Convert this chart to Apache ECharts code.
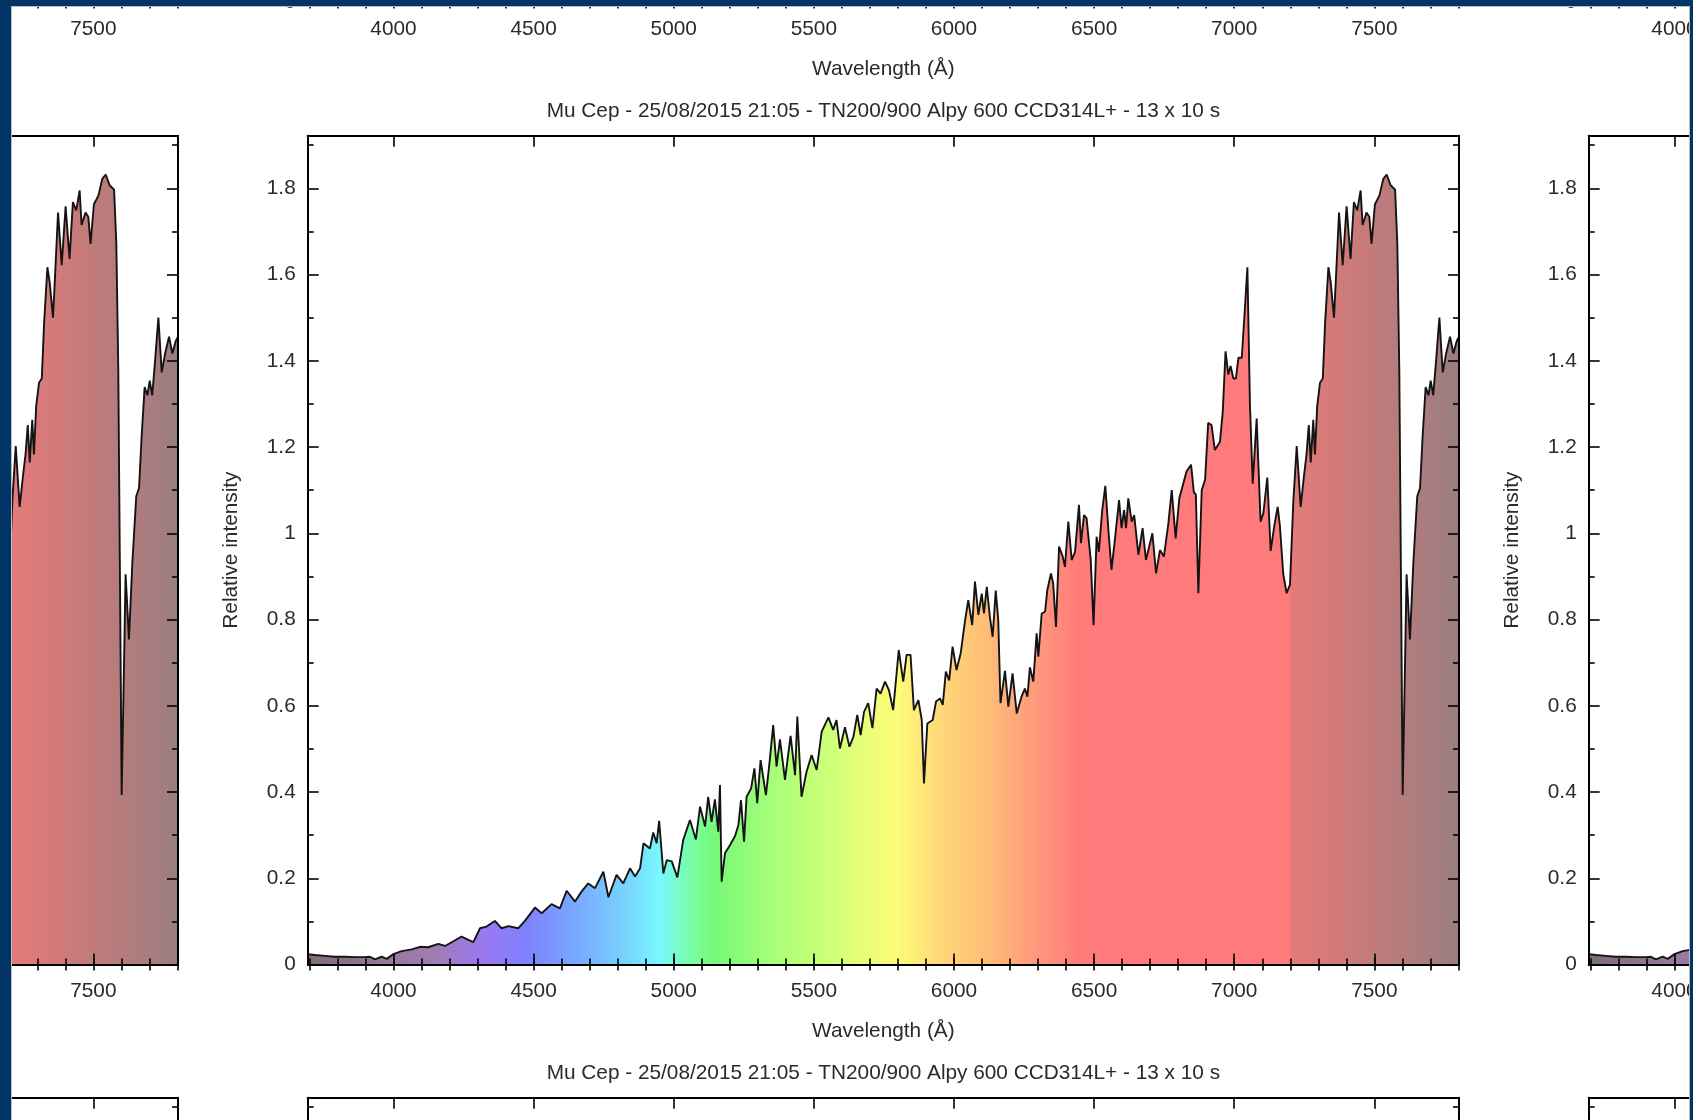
<!DOCTYPE html>
<html>
<head>
<meta charset="utf-8">
<script src="https://cdn.jsdelivr.net/npm/echarts@6/dist/echarts.min.js"></script>
<style>
  html, body { margin: 0; padding: 0; background: #ffffff; }
  #chart { width: 1693px; height: 1120px; }
</style>
</head>
<body>
<div id="chart"></div>
<script>
// ---------------- DATA ----------------
const titleText = 'Mu Cep - 25/08/2015 21:05 - TN200/900 Alpy 600 CCD314L+ - 13 x 10 s';
const xAxisName = 'Wavelength (Å)';
const yAxisName = 'Relative intensity';

// [wavelength (Å), relative intensity]
const spectrumPoints = [
  [3694,0.024],[3720,0.022],[3756,0.020],[3791,0.018],[3827,0.018],[3863,0.017],[3898,0.017],[3916,0.018],
  [3934,0.012],[3958,0.018],[3976,0.013],[4000,0.024],[4029,0.031],[4065,0.035],[4095,0.041],[4124,0.040],
  [4160,0.048],[4184,0.043],[4214,0.054],[4243,0.065],[4267,0.057],[4285,0.052],[4309,0.084],[4332,0.088],
  [4362,0.101],[4386,0.084],[4410,0.089],[4445,0.084],[4469,0.101],[4505,0.132],[4529,0.119],[4564,0.140],
  [4594,0.130],[4618,0.171],[4648,0.146],[4671,0.169],[4695,0.188],[4719,0.177],[4749,0.215],[4767,0.156],
  [4796,0.208],[4820,0.188],[4844,0.223],[4862,0.204],[4880,0.223],[4892,0.281],[4915,0.269],[4927,0.306],
  [4939,0.281],[4948,0.333],[4963,0.211],[4975,0.242],[4993,0.239],[5013,0.202],[5034,0.289],[5058,0.335],
  [5079,0.290],[5094,0.366],[5112,0.320],[5123,0.389],[5135,0.331],[5147,0.383],[5159,0.308],[5165,0.416],
  [5171,0.192],[5183,0.258],[5201,0.277],[5219,0.298],[5231,0.324],[5240,0.381],[5251,0.285],[5260,0.389],
  [5276,0.408],[5288,0.455],[5298,0.374],[5310,0.474],[5329,0.393],[5341,0.463],[5355,0.555],[5367,0.459],
  [5379,0.522],[5397,0.428],[5417,0.530],[5433,0.439],[5441,0.575],[5456,0.389],[5474,0.447],[5492,0.486],
  [5510,0.451],[5528,0.540],[5552,0.573],[5569,0.544],[5581,0.567],[5593,0.501],[5611,0.550],[5627,0.505],
  [5641,0.528],[5655,0.579],[5667,0.532],[5679,0.586],[5694,0.606],[5709,0.548],[5724,0.640],[5738,0.628],
  [5754,0.656],[5768,0.636],[5783,0.590],[5803,0.729],[5819,0.656],[5831,0.718],[5845,0.718],[5857,0.590],
  [5873,0.613],[5885,0.567],[5893,0.420],[5905,0.559],[5924,0.567],[5936,0.610],[5950,0.617],[5960,0.602],
  [5971,0.679],[5983,0.659],[5995,0.737],[6009,0.683],[6024,0.722],[6039,0.795],[6051,0.845],[6065,0.787],
  [6075,0.888],[6087,0.811],[6099,0.860],[6107,0.814],[6117,0.876],[6128,0.807],[6138,0.760],[6149,0.867],
  [6158,0.799],[6166,0.606],[6182,0.681],[6194,0.598],[6209,0.675],[6224,0.582],[6241,0.621],[6253,0.640],
  [6262,0.621],[6271,0.689],[6283,0.656],[6295,0.768],[6301,0.714],[6313,0.814],[6325,0.818],[6333,0.868],
  [6346,0.907],[6354,0.884],[6364,0.783],[6375,0.969],[6388,0.946],[6396,0.922],[6408,1.027],[6420,0.938],
  [6432,0.957],[6446,1.066],[6453,0.977],[6464,1.042],[6473,1.035],[6488,0.938],[6498,0.787],[6509,0.992],
  [6517,0.957],[6529,1.054],[6540,1.110],[6551,1.008],[6562,0.915],[6574,0.984],[6589,1.077],[6598,1.012],
  [6607,1.054],[6614,1.012],[6622,1.081],[6634,1.027],[6643,1.042],[6658,0.950],[6664,0.946],[6673,1.012],
  [6685,0.938],[6708,1.000],[6721,0.907],[6735,0.961],[6749,0.946],[6765,1.023],[6777,1.100],[6791,0.988],
  [6804,1.081],[6818,1.115],[6830,1.144],[6846,1.159],[6856,1.095],[6863,1.090],[6872,0.861],[6884,1.100],
  [6896,1.124],[6907,1.256],[6919,1.251],[6931,1.193],[6949,1.212],[6959,1.281],[6969,1.422],[6979,1.368],
  [6987,1.388],[6997,1.359],[7006,1.359],[7015,1.407],[7027,1.407],[7035,1.490],[7047,1.617],[7056,1.300],
  [7066,1.115],[7080,1.266],[7094,1.027],[7104,1.047],[7118,1.129],[7130,0.959],[7143,1.017],[7155,1.061],
  [7163,1.017],[7175,0.905],[7187,0.861],[7199,0.881],[7211,1.076],[7223,1.202],[7237,1.061],[7249,1.134],
  [7258,1.183],[7266,1.251],[7273,1.164],[7282,1.263],[7288,1.183],[7296,1.295],[7306,1.349],[7316,1.359],
  [7324,1.485],[7336,1.617],[7344,1.583],[7356,1.500],[7363,1.593],[7374,1.744],[7387,1.622],[7401,1.758],
  [7415,1.636],[7427,1.768],[7439,1.749],[7451,1.795],[7458,1.715],[7472,1.744],[7482,1.734],[7490,1.671],
  [7502,1.763],[7518,1.783],[7532,1.822],[7544,1.832],[7558,1.807],[7574,1.797],[7582,1.671],[7589,1.378],
  [7595,0.891],[7601,0.393],[7608,0.647],[7615,0.905],[7627,0.754],[7639,0.930],[7653,1.086],[7663,1.105],
  [7672,1.222],[7683,1.339],[7693,1.320],[7701,1.354],[7710,1.320],[7720,1.398],[7732,1.500],[7744,1.373],
  [7756,1.417],[7770,1.456],[7782,1.417],[7794,1.446],[7802,1.456]
];

const xMin = 3694, xMax = 7802;
const yMin = 0, yMax = 1.922;
const xMajorTicks = [4000, 4500, 5000, 5500, 6000, 6500, 7000, 7500];
const xMinorTicks = [3700,3800,3900,4000,4100,4200,4300,4400,4500,4600,4700,4800,4900,5000,5100,5200,5300,
  5400,5500,5600,5700,5800,5900,6000,6100,6200,6300,6400,6500,6600,6700,6800,6900,7000,7100,7200,7300,7400,
  7500,7600,7700,7800];
const yMajorTicks = [0, 0.2, 0.4, 0.6, 0.8, 1, 1.2, 1.4, 1.6, 1.8];
const yMinorTicks = [0.1, 0.3, 0.5, 0.7, 0.9, 1.1, 1.3, 1.5, 1.7, 1.9];

// fill colour of the spectrum at given wavelengths
const colorWavelengths = [3694, 3950, 4150, 4330, 4480, 4650, 4850, 4950, 5080, 5150, 5400, 5620, 5800, 5950, 6100, 6280, 6450, 7199, 7202, 7450, 7802];
const colorValues = ['#7d6b7b', '#937896', '#a07cb4', '#9a78f4', '#7e82ff', '#78a8ff', '#78d8ff', '#78f8ff', '#78ff98', '#78f878', '#b0ff78', '#dcff78', '#fdfb78', '#ffd878', '#ffc078', '#ff9c7c', '#ff7a7a', '#ff7a7a', '#e67a7a', '#c87a7a', '#9a7e80'];

// ---------------- LAYOUT ----------------
const PLOT = { left: 307.7, top: 135.7, width: 1151.3, height: 828.8 };
const TILE_DX = 1281, TILE_DY = 962;
const FONT = "'Liberation Sans', Arial, sans-serif";
const TEXT_COLOR = '#2a2a2a';
const FONT_SIZE = 20.8;

const chart = echarts.init(document.getElementById('chart'), null, { renderer: 'canvas' });

const first = spectrumPoints[0][0], last = spectrumPoints[spectrumPoints.length - 1][0];
const stops = colorWavelengths.map((w, i) => ({
  offset: Math.min(1, Math.max(0, (w - first) / (last - first))),
  color: colorValues[i]
}));

const grids = [], xAxes = [], yAxes = [], series = [];
let k = 0;
for (const j of [-1, 0, 1]) {
  for (const i of [-1, 0, 1]) {
    grids.push({
      left: PLOT.left + i * TILE_DX,
      top: PLOT.top + j * TILE_DY,
      width: PLOT.width,
      height: PLOT.height,
      containLabel: false,
      outerBoundsMode: 'none'
    });
    const lineStyle = { color: '#000', width: 2 };
    const tickStyle = { color: '#000', width: 1.6 };
    const labelStyle = { color: TEXT_COLOR, fontSize: FONT_SIZE, fontFamily: FONT };
    const baseX = { gridIndex: k, type: 'value', min: xMin, max: xMax, splitLine: { show: false }, z: 5 };
    const baseY = { gridIndex: k, type: 'value', min: yMin, max: yMax, splitLine: { show: false }, z: 5 };
    xAxes.push(Object.assign({}, baseX, {
      position: 'bottom',
      axisLine: { show: true, onZero: false, lineStyle },
      axisTick: { show: true, inside: true, length: 11, customValues: xMajorTicks, lineStyle: tickStyle },
      axisLabel: { show: true, customValues: xMajorTicks, formatter: v => String(v), margin: 16, ...labelStyle },
      name: xAxisName, nameLocation: 'middle', nameGap: 56,
      nameTextStyle: labelStyle
    }));
    xAxes.push(Object.assign({}, baseX, {
      position: 'bottom',
      axisLine: { show: false },
      axisTick: { show: true, inside: true, length: 6, customValues: xMinorTicks, lineStyle: tickStyle },
      axisLabel: { show: false }
    }));
    xAxes.push(Object.assign({}, baseX, {
      position: 'top',
      axisLine: { show: true, onZero: false, lineStyle },
      axisTick: { show: true, inside: true, length: 11, customValues: xMajorTicks, lineStyle: tickStyle },
      axisLabel: { show: false },
      name: titleText, nameLocation: 'middle', nameGap: 14,
      nameTextStyle: labelStyle
    }));
    xAxes.push(Object.assign({}, baseX, {
      position: 'top',
      axisLine: { show: false },
      axisTick: { show: true, inside: true, length: 6, customValues: xMinorTicks, lineStyle: tickStyle },
      axisLabel: { show: false }
    }));
    yAxes.push(Object.assign({}, baseY, {
      position: 'left',
      axisLine: { show: true, onZero: false, lineStyle },
      axisTick: { show: true, inside: true, length: 11, customValues: yMajorTicks, lineStyle: tickStyle },
      axisLabel: { show: true, customValues: yMajorTicks, formatter: v => String(v), margin: 12, ...labelStyle },
      name: yAxisName, nameLocation: 'middle', nameGap: 66,
      nameTextStyle: labelStyle
    }));
    yAxes.push(Object.assign({}, baseY, {
      position: 'left',
      axisLine: { show: false },
      axisTick: { show: true, inside: true, length: 6, customValues: yMinorTicks, lineStyle: tickStyle },
      axisLabel: { show: false }
    }));
    yAxes.push(Object.assign({}, baseY, {
      position: 'right',
      axisLine: { show: true, onZero: false, lineStyle },
      axisTick: { show: true, inside: true, length: 11, customValues: yMajorTicks, lineStyle: tickStyle },
      axisLabel: { show: false }
    }));
    yAxes.push(Object.assign({}, baseY, {
      position: 'right',
      axisLine: { show: false },
      axisTick: { show: true, inside: true, length: 6, customValues: yMinorTicks, lineStyle: tickStyle },
      axisLabel: { show: false }
    }));

    series.push({
      type: 'line',
      xAxisIndex: k * 4,
      yAxisIndex: k * 4,
      data: spectrumPoints,
      showSymbol: false,
      symbol: 'none',
      smooth: false,
      silent: true,
      clip: true,
      lineStyle: { color: '#141414', width: 1.9 },
      areaStyle: {
        opacity: 1,
        color: new echarts.graphic.LinearGradient(0, 0, 1, 0, stops)
      },
      z: 2
    });
    k++;
  }
}

const FRAME = '#033466';
const option = {
  animation: false,
  backgroundColor: '#ffffff',
  grid: grids,
  xAxis: xAxes,
  yAxis: yAxes,
  series: series,
  graphic: [
    { type: 'rect', z: 100, shape: { x: 0, y: 0, width: 11, height: 1120 }, style: { fill: FRAME } },
    { type: 'rect', z: 100, shape: { x: 0, y: 0, width: 1693, height: 6 }, style: { fill: FRAME } },
    { type: 'rect', z: 100, shape: { x: 1690, y: 0, width: 3, height: 1120 }, style: { fill: FRAME } },
    { type: 'line', z: 100, shape: { x1: 11.5, y1: 6, x2: 11.5, y2: 1120 }, style: { stroke: '#b8bcc4', lineWidth: 1 } },
    { type: 'line', z: 100, shape: { x1: 11, y1: 6.5, x2: 1690, y2: 6.5 }, style: { stroke: '#b8bcc4', lineWidth: 1 } },
    { type: 'line', z: 100, shape: { x1: 1689.5, y1: 6, x2: 1689.5, y2: 1120 }, style: { stroke: '#b8bcc4', lineWidth: 1 } }
  ]
};
chart.setOption(option);
</script>
</body>
</html>
